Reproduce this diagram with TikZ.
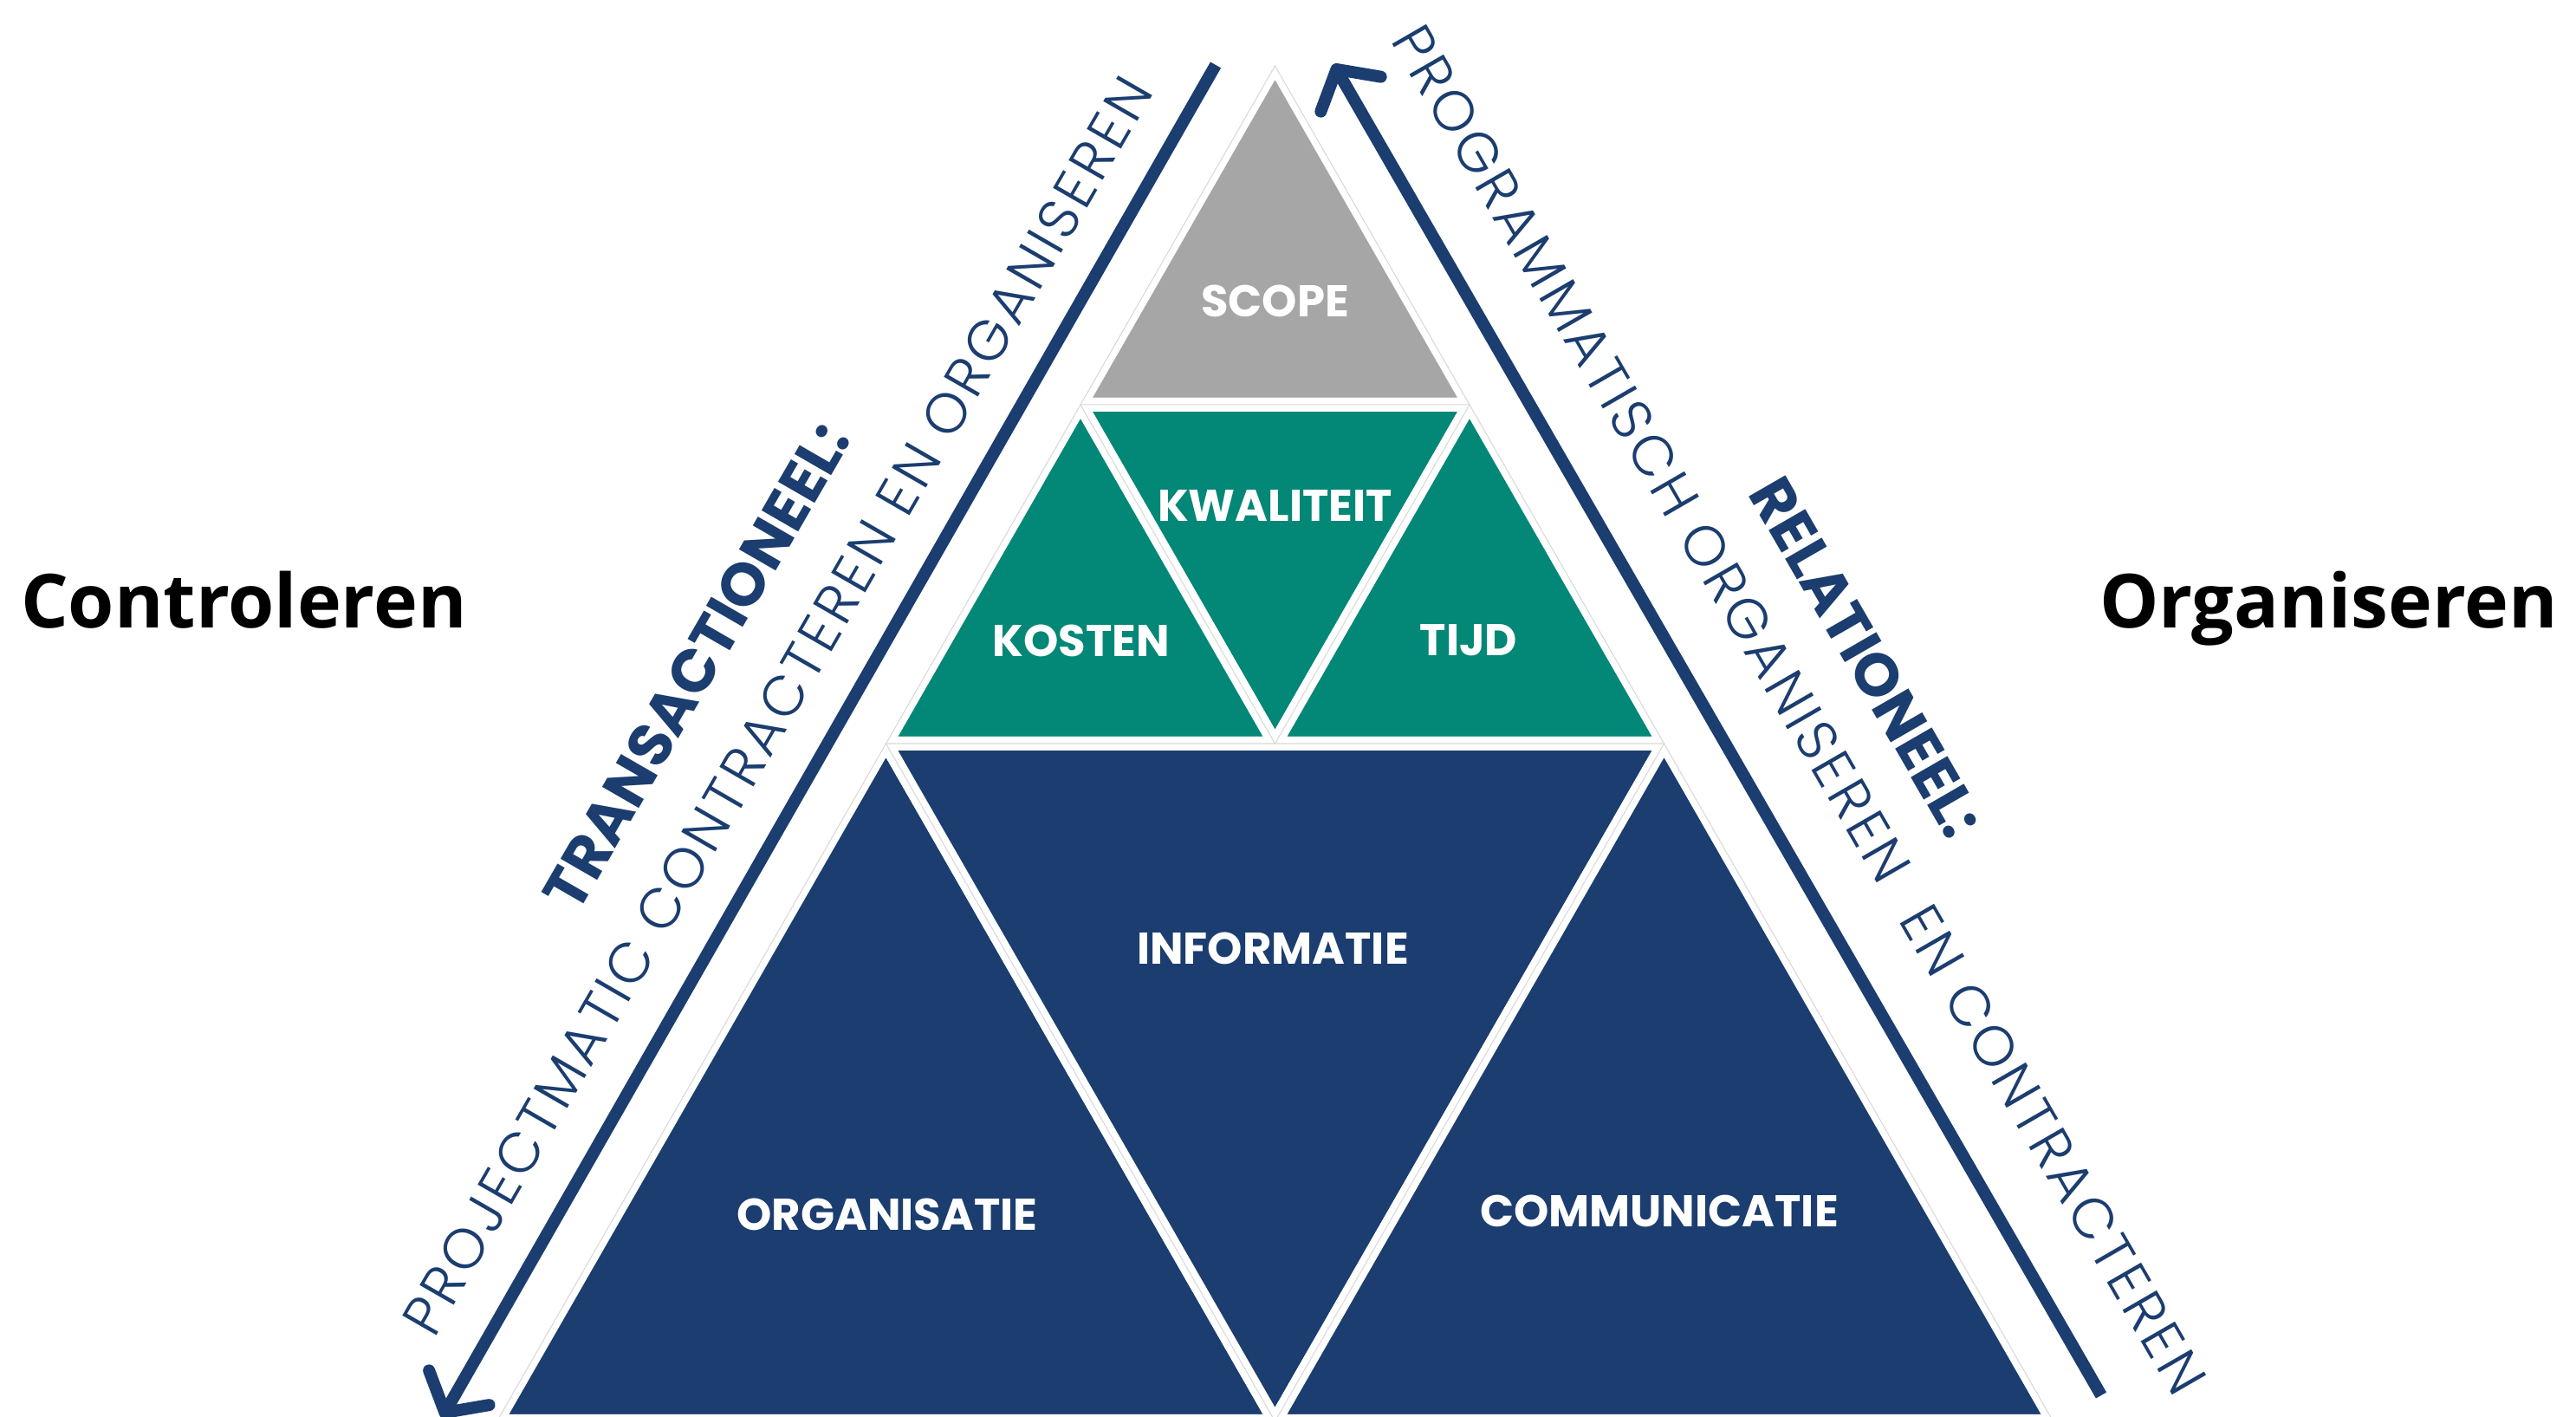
\documentclass[tikz,border=0pt]{standalone}
\usepackage{fontspec}
\setmainfont{Open Sans}
\newfontfamily\popfont{Poppins}
\newfontfamily\poplight{Poppins Light}[LetterSpace=6]
\usetikzlibrary{arrows.meta}

\definecolor{navy}{RGB}{27,61,111}
\definecolor{tealgreen}{RGB}{3,135,119}
\definecolor{scopegrey}{RGB}{166,166,166}

\begin{document}
\begin{tikzpicture}
  \tikzset{piece/.style = {draw=white, line width=1.6mm, line join=miter}}
  \tikzset{seam/.style = {draw=black!15, line width=0.3pt}}
  \tikzset{piecetext/.style = {text=white, font=\popfont\bfseries\fontsize{14.6}{17}\selectfont}}
  \tikzset{flow/.style = {draw=navy, line width=1.4mm, -{Straight Barb[round, length=3.3mm, width=8mm]}}}
  \tikzset{sidebold/.style = {text=navy, anchor=base, inner sep=0pt, font=\popfont\bfseries\fontsize{19.8}{22}\selectfont}}
  \tikzset{sidelight/.style = {text=navy, anchor=base, inner sep=0pt, font=\poplight\fontsize{18.5}{22}\selectfont}}
  \tikzset{sideword/.style = {anchor=base, inner sep=0pt, font=\bfseries\fontsize{24.5}{28}\selectfont}}

  \useasboundingbox (0,0) rectangle (29.73,16.35);

  \coordinate (top) at (14.715,15.59);
  \coordinate (a1) at (12.47,11.68);
  \coordinate (b1) at (16.96,11.68);
  \coordinate (a2) at (10.225,7.77);
  \coordinate (m2) at (14.715,7.77);
  \coordinate (b2) at (19.205,7.77);
  \coordinate (a3) at (5.735,-0.05);
  \coordinate (m3) at (14.715,-0.05);
  \coordinate (b3) at (23.695,-0.05);

  \filldraw[piece, fill=scopegrey] (top) -- (a1) -- (b1) -- cycle;
  \filldraw[piece, fill=tealgreen] (a1) -- (b1) -- (m2) -- cycle;
  \filldraw[piece, fill=tealgreen] (a1) -- (a2) -- (m2) -- cycle;
  \filldraw[piece, fill=tealgreen] (b1) -- (m2) -- (b2) -- cycle;
  \filldraw[piece, fill=navy] (a2) -- (a3) -- (m3) -- cycle;
  \filldraw[piece, fill=navy] (a2) -- (b2) -- (m3) -- cycle;
  \filldraw[piece, fill=navy] (b2) -- (m3) -- (b3) -- cycle;

  \draw[seam] (top) -- (a3) -- (b3) -- cycle;
  \draw[seam] (a1) -- (b1) -- (m2) -- cycle;
  \draw[seam] (a2) -- (b2) -- (m3) -- cycle;

  \node[piecetext] (scope) at (14.715,12.88) {SCOPE};
  \node[piecetext] (kwaliteit) at (14.715,10.51) {KWALITEIT};
  \node[piecetext] (kosten) at (12.48,8.96) {KOSTEN};
  \node[piecetext] (tijd) at (16.95,8.96) {TIJD};
  \node[piecetext] (informatie) at (14.69,5.41) {INFORMATIE};
  \node[piecetext] (organisatie) at (10.24,2.34) {ORGANISATIE};
  \node[piecetext] (communicatie) at (19.15,2.38) {COMMUNICATIE};

  \coordinate (ltop) at (14.03,15.60);
  \coordinate (lbot) at (5.10,-0.01);
  \coordinate (rbot) at (24.25,0.25);
  \coordinate (rtop) at (15.39,15.61);
  \draw[flow] (ltop) -- (lbot);
  \draw[flow] (rbot) -- (rtop);

  \node[sidebold, rotate=60] (trans) at (8.25,8.54) {TRANSACTIONEEL:};
  \node[sidelight, rotate=60] (projtxt) at (9.17,8.09) {PROJECTMATIC CONTRACTEREN EN ORGANISEREN};
  \node[sidebold, rotate=-60] (rel) at (21.33,8.645) {RELATIONEEL:};
  \node[sidelight, rotate=-60] (progtxt) at (20.57,8.05) {PROGRAMMATISCH ORGANISEREN~ EN CONTRACTEREN};

  \node[sideword] (ctrl) at (2.815,9.10) {Controleren};
  \node[sideword] (org) at (26.875,9.10) {Organiseren};
\end{tikzpicture}
\end{document}
